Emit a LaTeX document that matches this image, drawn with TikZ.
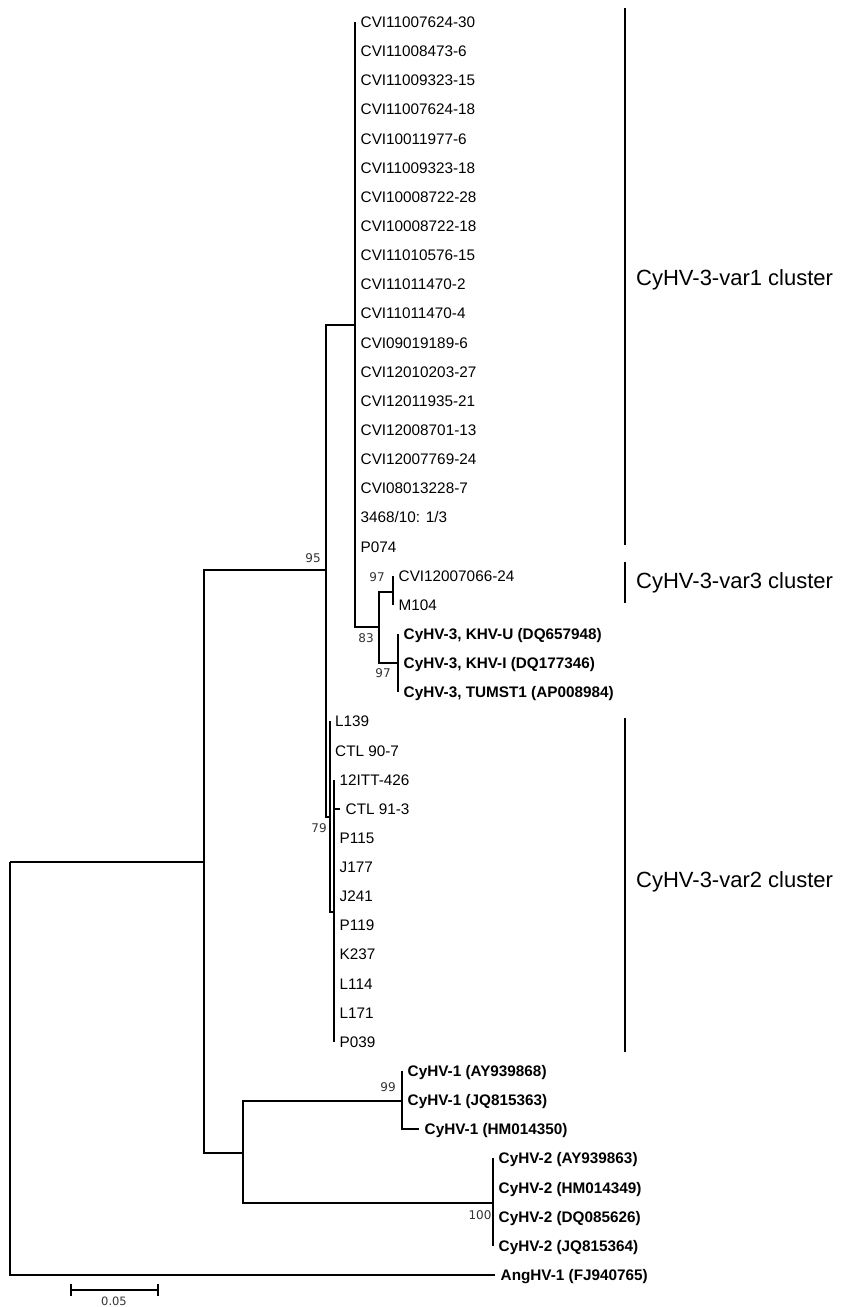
\documentclass[tikz,border=0pt]{standalone}
\usepackage{fontspec}
\setmainfont{Liberation Sans}
\newfontfamily\bsfont{DejaVu Sans}
\begin{document}
\begin{tikzpicture}[x=1pt,y=-1pt,
  tree/.style={line width=2pt,line join=miter},
  barline/.style={line width=2pt},
  lab/.style={inner sep=0pt,anchor=base west,font=\fontsize{15.3}{18}\selectfont},
  blab/.style={lab,font=\fontsize{15.3}{18}\selectfont\bfseries},
  bs/.style={inner sep=0pt,text=black!80,font=\bsfont\fontsize{12}{14}\selectfont},
  clab/.style={inner sep=0pt,anchor=west,font=\fontsize{22}{26}\selectfont}]
\useasboundingbox (0,0) rectangle (841,1307);
% internal nodes
\coordinate (R) at (10,862);
\coordinate (A) at (204,862);
\coordinate (N95) at (326,570);
\coordinate (V1) at (355,325);
\coordinate (N83) at (379,627);
\coordinate (N97a) at (393,592);
\coordinate (N97b) at (398,663);
\coordinate (N79) at (329.5,817);
\coordinate (N79s) at (334,912);
\coordinate (C12) at (243,1153);
\coordinate (C1) at (402,1101);
\coordinate (C2) at (493,1203);
\draw[tree] (R) |- (A);
\draw[tree] (A) |- (N95);
\draw[tree] (N95) |- (V1);
\draw[tree] (V1) |- (N83);
\draw[tree] (N83) |- (N97a);
\draw[tree] (N83) |- (N97b);
\draw[tree] (N95) |- (N79);
\draw[tree] (N79) |- (N79s);
\draw[tree] (A) |- (C12);
\draw[tree] (C12) |- (C1);
\draw[tree] (C12) |- (C2);
% normal tips
\foreach \i/\xx/\p/\t in {
 0/355/V1/CVI11007624-30, 1/355/V1/CVI11008473-6, 2/355/V1/CVI11009323-15,
 3/355/V1/CVI11007624-18, 4/355/V1/CVI10011977-6, 5/355/V1/CVI11009323-18,
 6/355/V1/CVI10008722-28, 7/355/V1/CVI10008722-18, 8/355/V1/CVI11010576-15,
 9/355/V1/CVI11011470-2, 10/355/V1/CVI11011470-4, 11/355/V1/CVI09019189-6,
 12/355/V1/CVI12010203-27, 13/355/V1/CVI12011935-21, 14/355/V1/CVI12008701-13,
 15/355/V1/CVI12007769-24, 16/355/V1/CVI08013228-7, 17/355/V1/{3468/10: 1/3},
 18/355/V1/P074, 19/393/N97a/CVI12007066-24, 20/393/N97a/M104,
 24/329.5/N79/L139, 25/329.5/N79/CTL 90-7, 26/334/N79s/12ITT-426, 27/340/N79s/CTL 91-3,
 28/334/N79s/P115, 29/334/N79s/J177, 30/334/N79s/J241, 31/334/N79s/P119,
 32/334/N79s/K237, 33/334/N79s/L114, 34/334/N79s/L171, 35/334/N79s/P039}{
  \pgfmathsetmacro\yy{22+29.14*\i}
  \coordinate (e\i) at (\xx,\yy);
  \node[lab] (t\i) at ([xshift=5.5pt,yshift=-5.5pt]e\i) {\t};
  \draw[tree] (\p) |- (e\i);
}
% bold tips
\foreach \i/\xx/\p/\t in {
 21/398/N97b/{CyHV-3, KHV-U (DQ657948)}, 22/398/N97b/{CyHV-3, KHV-I (DQ177346)},
 23/398/N97b/{CyHV-3, TUMST1 (AP008984)},
 36/402/C1/CyHV-1 (AY939868), 37/402/C1/CyHV-1 (JQ815363), 38/419/C1/CyHV-1 (HM014350),
 39/493/C2/CyHV-2 (AY939863), 40/493/C2/CyHV-2 (HM014349), 41/493/C2/CyHV-2 (DQ085626),
 42/493/C2/CyHV-2 (JQ815364), 43/495/R/AngHV-1 (FJ940765)}{
  \pgfmathsetmacro\yy{22+29.14*\i}
  \coordinate (e\i) at (\xx,\yy);
  \node[blab] (t\i) at ([xshift=5.5pt,yshift=-5.5pt]e\i) {\t};
  \draw[tree] (\p) |- (e\i);
}
% bootstrap values
\node[bs] (b95) at (313,558) {95};
\node[bs] (b97a) at (377,577) {97};
\node[bs] (b83) at (366,638) {83};
\node[bs] (b97b) at (383,673) {97};
\node[bs] (b79) at (319,828) {79};
\node[bs] (b99) at (388,1087) {99};
\node[bs] (b100) at (480,1215) {100};
% scale bar
\coordinate (s1) at (71,1290);
\coordinate (s2) at (158,1290);
\draw[tree] (s1) -- (s2);
\draw[tree] ([yshift=6pt]s1) -- ([yshift=-6pt]s1);
\draw[tree] ([yshift=6pt]s2) -- ([yshift=-6pt]s2);
\node[bs,font=\bsfont\fontsize{11.5}{13}\selectfont] (sl) at (114,1301) {0.05};
% cluster bars
\coordinate (k1a) at (625,8);   \coordinate (k1b) at (625,545);
\coordinate (k3a) at (625,562); \coordinate (k3b) at (625,603);
\coordinate (k2a) at (625,718); \coordinate (k2b) at (625,1052);
\draw[barline] (k1a) -- (k1b);
\draw[barline] (k3a) -- (k3b);
\draw[barline] (k2a) -- (k2b);
\node[clab] (c1) at (636,280) {CyHV-3-var1 cluster};
\node[clab] (c3) at (636,583) {CyHV-3-var3 cluster};
\node[clab] (c2) at (636,882) {CyHV-3-var2 cluster};
\end{tikzpicture}
\end{document}
